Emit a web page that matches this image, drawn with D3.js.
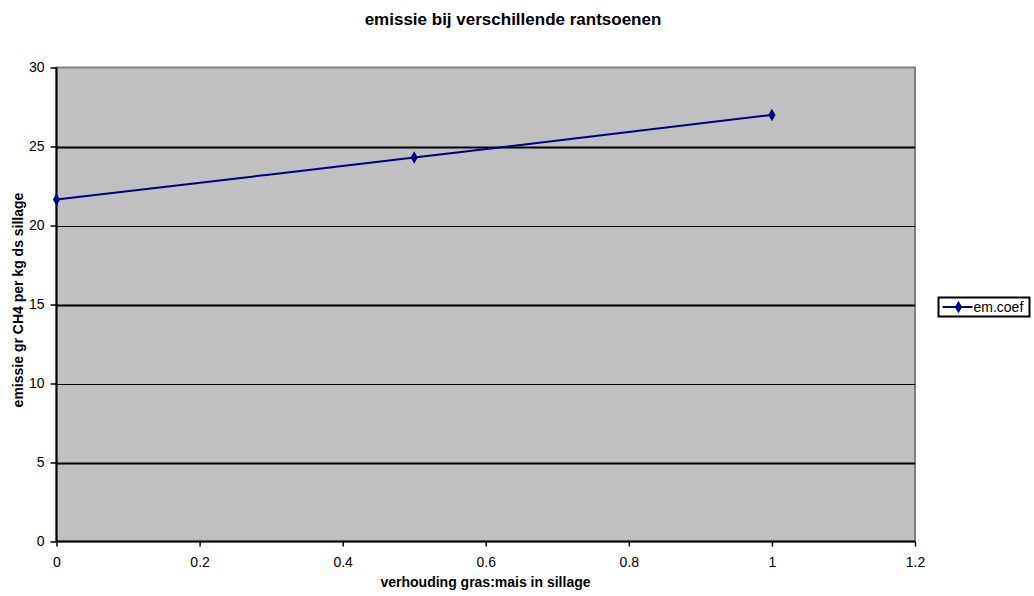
<!DOCTYPE html>
<html>
<head>
<meta charset="utf-8">
<script src="https://cdn.jsdelivr.net/npm/d3@7"></script>
<style>
  body { margin: 0; background: #fff; }
  text { font-family: "Liberation Sans", Arial, sans-serif; fill: #000; }
</style>
</head>
<body>
<svg id="chart" width="1034" height="596"></svg>
<script>
const ratio = [0, 0.5, 1];
const emCoef = [21.65, 24.3, 27.0];
const xTicks = [0, 0.2, 0.4, 0.6, 0.8, 1, 1.2];
const yTicks = [0, 5, 10, 15, 20, 25, 30];
const seriesName = "em.coef";
const fontFam = "'Liberation Sans', Arial, sans-serif";

const svg = d3.select("#chart");
const plot = { left: 56.5, top: 67.5, right: 915, bottom: 541.5 };

const x = d3.scaleLinear().domain([0, 1.2]).range([plot.left, plot.right]);
const y = d3.scaleLinear().domain([0, 30]).range([plot.bottom, plot.top]);

// plot background
svg.append("rect")
    .attr("x", plot.left).attr("y", plot.top)
    .attr("width", plot.right - plot.left)
    .attr("height", plot.bottom - plot.top)
    .attr("fill", "#c0c0c0")
    .attr("stroke", "#808080")
    .attr("stroke-width", 2);

// gridlines
svg.append("g")
  .selectAll("line")
  .data(yTicks.filter(d => d > 0 && d < 30))
  .join("line")
    .attr("x1", plot.left).attr("x2", plot.right)
    .attr("y1", d => Math.round(y(d)) + 0.5)
    .attr("y2", d => Math.round(y(d)) + 0.5)
    .attr("stroke", "#000")
    .attr("stroke-width", d => d % 10 === 0 ? 1 : 2);

// axes
const xAxis = d3.axisBottom(x).tickValues(xTicks).tickSize(5).tickPadding(11).tickFormat(d3.format("~g"));
const yAxis = d3.axisLeft(y).tickValues(yTicks).tickSize(6).tickPadding(6);

const gX = svg.append("g")
    .attr("transform", `translate(0,${plot.bottom})`)
    .call(xAxis);
const gY = svg.append("g")
    .attr("transform", `translate(${plot.left},0)`)
    .call(yAxis);

[gX, gY].forEach(g => {
  g.selectAll(".domain").attr("stroke", "#000").attr("stroke-width", 2)
    .attr("d", g === gX ? `M${plot.left},0H${plot.right}` : `M0,${plot.bottom}V${plot.top}`);
  g.selectAll(".tick line").attr("stroke", "#000").attr("stroke-width", 1.5);
  g.selectAll(".tick text").attr("font-size", 14).attr("font-family", fontFam).attr("fill", "#000");
});

// series
const pts = ratio.map((r, i) => [r, emCoef[i]]);
const line = d3.line()
    .x(d => x(d[0]))
    .y(d => y(d[1]))
    .curve(d3.curveCatmullRom.alpha(0.5));

svg.append("path")
    .datum(pts)
    .attr("d", line)
    .attr("fill", "none")
    .attr("stroke", "#000080")
    .attr("stroke-width", 2);

const diamond = d3.symbol().type(d3.symbolDiamond).size(45);
svg.append("g")
  .selectAll("path")
  .data(pts)
  .join("path")
    .attr("d", diamond)
    .attr("transform", d => `translate(${x(d[0])},${y(d[1])})`)
    .attr("fill", "#000080");

// title and axis labels
svg.append("text")
    .attr("x", 513).attr("y", 25)
    .attr("text-anchor", "middle")
    .attr("font-size", 17).attr("font-weight", "bold")
    .text("emissie bij verschillende rantsoenen");

svg.append("text")
    .attr("x", 485.5).attr("y", 587)
    .attr("text-anchor", "middle")
    .attr("font-size", 14).attr("font-weight", "bold")
    .text("verhouding gras:mais in sillage");

svg.append("text")
    .attr("transform", "translate(23,300) rotate(-90)")
    .attr("text-anchor", "middle")
    .attr("font-size", 14).attr("font-weight", "bold")
    .text("emissie gr CH4 per kg ds sillage");

// legend
const lg = svg.append("g").attr("transform", "translate(938.5,297.5)");
lg.append("rect")
    .attr("width", 91).attr("height", 19)
    .attr("fill", "#fff").attr("stroke", "#000").attr("stroke-width", 2);
lg.append("line")
    .attr("x1", 4).attr("x2", 34).attr("y1", 9.5).attr("y2", 9.5)
    .attr("stroke", "#000080").attr("stroke-width", 2);
lg.append("path")
    .attr("d", diamond)
    .attr("transform", "translate(20,9.5)")
    .attr("fill", "#000080");
lg.append("text")
    .attr("x", 35).attr("y", 14.5)
    .attr("font-size", 14)
    .text(seriesName);
</script>
</body>
</html>
